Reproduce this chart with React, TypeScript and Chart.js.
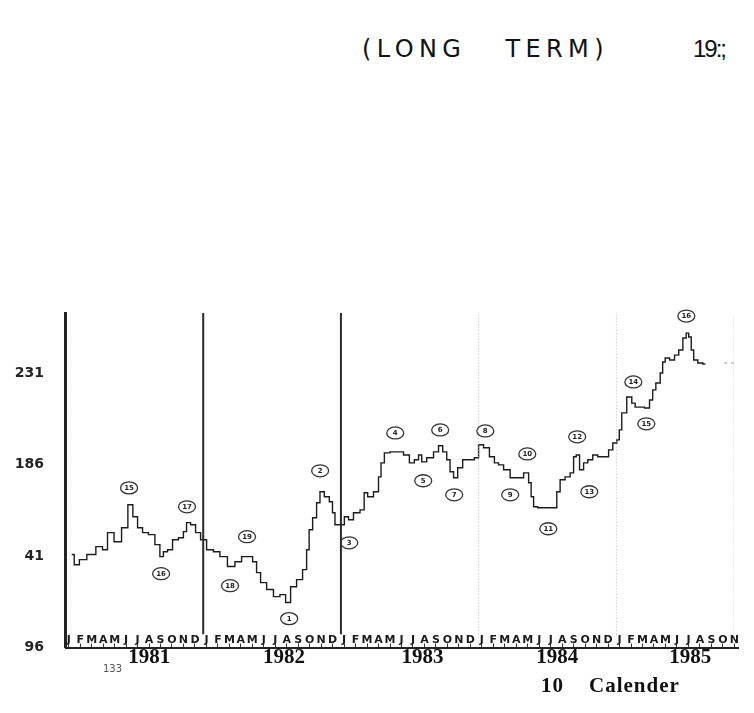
import React, { useEffect, useRef } from "react";
import { Chart, registerables } from "chart.js";

Chart.register(...registerables);

// ---- data ----
const priceMonths = [
  0.54, 0.98, 1.44, 2.28, 3.01, 3.44, 3.88, 4.58, 5.19, 5.68, 6.06, 6.5, 6.93, 7.52, 8.06, 8.39, 8.67, 9.11, 9.55, 10.13, 10.42, 10.68, 11.12, 11.55, 11.99,
  12.6, 13.18, 13.73, 14.49, 15.04, 15.65, 16.09, 16.52, 16.78, 17.22, 17.83, 18.41, 18.96, 19.4, 19.83, 20.44, 20.88, 21.14, 21.32, 21.75, 22.01, 22.34, 22.77, 23.21, 23.32, 23.64, 24.08,
  24.52, 24.8, 25.39, 25.94, 26.11, 26.55, 27.13, 27.42, 27.57, 28.0, 28.55, 29.16, 29.75, 30.18, 30.62, 30.91, 31.17, 31.78, 32.36, 32.65, 33.09, 33.35, 33.67, 33.96, 34.39, 34.83, 35.41, 35.85, 36.14,
  36.72, 37.16, 37.59, 37.88, 38.47, 39.02, 39.63, 40.21, 40.5, 40.65, 40.93, 41.37, 41.95, 42.68, 42.94, 43.26, 43.81, 44.13, 44.42, 44.59, 45.0, 45.29, 45.73, 46.16, 46.6, 47.18, 47.47, 47.91,
  48.17, 48.34, 48.6, 49.21, 49.48, 49.8, 50.24, 50.67, 51.11, 51.22, 51.66, 51.98, 52.09, 52.42, 52.85, 53.29, 53.58, 54.01, 54.16, 54.45, 54.6, 54.88, 55.32, 55.75,
];
const priceValues = [
  141.7, 136.7, 139.2, 141.7, 145.6, 144.1, 152.5, 148.0, 154.9, 166.2, 160.3, 154.9, 152.5, 151.5, 146.6, 140.7, 143.1, 144.1, 149.0, 150.0, 153.0, 157.4, 156.4, 152.5, 149.0,
  144.1, 143.1, 140.7, 135.8, 138.2, 140.7, 140.7, 138.2, 132.8, 127.9, 124.5, 121.0, 122.0, 118.1, 125.9, 129.4, 134.3, 144.1, 153.9, 159.8, 167.2, 172.6, 170.1, 167.7, 162.3, 156.4, 156.4,
  160.3, 158.8, 162.3, 163.7, 172.1, 170.1, 172.6, 179.9, 186.8, 191.7, 192.2, 192.2, 190.7, 186.8, 188.3, 190.7, 187.3, 189.3, 192.2, 195.2, 192.2, 188.3, 182.4, 179.5, 184.4, 188.3, 188.3, 189.3, 195.7,
  194.2, 189.8, 186.8, 185.8, 183.4, 179.5, 179.5, 181.9, 177.0, 170.1, 165.2, 164.7, 164.7, 164.7, 172.6, 178.5, 179.9, 181.9, 189.8, 190.7, 183.4, 186.8, 188.3, 190.7, 189.8, 189.8, 193.2, 196.6,
  198.1, 203.0, 211.4, 219.2, 216.2, 214.2, 214.2, 213.8, 217.7, 222.7, 226.1, 231.0, 236.4, 238.4, 237.4, 239.8, 242.3, 248.2, 250.6, 248.7, 242.3, 237.4, 235.9, 235.4,
];
const tailMonths = [57.4, 58.6];
const tailValues = [235.9, 235.9];

const yearLineMonths = [12, 24, 36, 48];
const yearLineKinds = ["solid", "solid", "dotted", "dotted"];
const faintLineMonths = [0.4, 58.2];

const monthLetters = ["J", "F", "M", "A", "M", "J", "J", "A", "S", "O", "N", "D"];
const monthTicks = Array.from({ length: 59 }, (_, i) => i);
const yearLabels = ["1981", "1982", "1983", "1984", "1985"];
const yearLabelMonths = [7.3, 19.05, 31.1, 42.85, 54.45];
const yTickValues = [96, 141, 186, 231];
const yTickLabels = ["96", "41", "186", "231"];

const noteNumbers = [15, 16, 17, 18, 19, 1, 2, 3, 4, 5, 6, 7, 8, 9, 10, 11, 12, 13, 14, 15, 16];
const noteMonths = [5.54, 8.33, 10.59, 14.34, 15.82, 19.49, 22.19, 24.72, 28.73, 31.17, 32.65, 33.87, 36.58, 38.75, 40.24, 42.07, 44.59, 45.64, 49.48, 50.61, 54.1];
const noteValues = [174.5, 132.3, 165.2, 126.4, 150.5, 110.2, 182.9, 147.5, 201.5, 178.0, 203.0, 171.1, 202.5, 171.1, 191.2, 154.4, 199.6, 172.6, 226.6, 206.0, 259.0];

const Y_MIN = 96;
const Y_MAX = 260.5;
const X_MIN = 0;
const X_MAX = 58.6;
const LINE_LOW = 102.5;
const LETTER_SHIFT = 0.28;

const circleLabels = {
  id: "circleLabels",
  afterDatasetsDraw(chart: any) {
    const { ctx } = chart;
    const xs = chart.scales.x;
    const ys = chart.scales.y;
    ctx.save();
    noteNumbers.forEach((n, i) => {
      const px = xs.getPixelForValue(noteMonths[i]);
      const py = ys.getPixelForValue(noteValues[i]);
      ctx.beginPath();
      ctx.ellipse(px, py, 8.5, 6, 0, 0, Math.PI * 2);
      ctx.lineWidth = 1.3;
      ctx.strokeStyle = "#333";
      ctx.stroke();
      ctx.fillStyle = "#222";
      ctx.font = "bold 7px 'DejaVu Sans'";
      ctx.textAlign = "center";
      ctx.textBaseline = "middle";
      ctx.fillText(String(n), px, py + 0.5);
    });
    ctx.restore();
  },
};

export default function App() {
  const ref = useRef<HTMLCanvasElement | null>(null);

  useEffect(() => {
    if (!ref.current) return;
    const datasets: any[] = [];
    yearLineMonths.forEach((m, i) => {
      const solid = yearLineKinds[i] === "solid";
      datasets.push({
        data: [{ x: m, y: LINE_LOW }, { x: m, y: Y_MAX }],
        borderColor: solid ? "#2a2a2a" : "#b5b5b5",
        borderWidth: solid ? 2 : 1,
        borderDash: solid ? [] : [1, 2],
        pointRadius: 0,
      });
    });
    faintLineMonths.forEach((m) => {
      datasets.push({
        data: [{ x: m, y: LINE_LOW }, { x: m, y: Y_MAX }],
        borderColor: "#dcdcdc",
        borderWidth: 1,
        borderDash: [1, 2],
        pointRadius: 0,
      });
    });
    datasets.push({
      data: priceMonths.map((m, i) => ({ x: m, y: priceValues[i] })),
      borderColor: "#1c1c1c",
      borderWidth: 1.4,
      pointRadius: 0,
      stepped: "middle",
    });
    datasets.push({
      data: tailMonths.map((m, i) => ({ x: m, y: tailValues[i] })),
      borderColor: "#999",
      borderWidth: 1,
      borderDash: [3, 4],
      pointRadius: 0,
    });

    const chart = new Chart(ref.current, {
      type: "line",
      data: { datasets },
      options: {
        animation: false,
        responsive: false,
        devicePixelRatio: 1,
        layout: { padding: { top: 305, right: 8, bottom: 27.5, left: 0 } },
        plugins: { legend: { display: false }, tooltip: { enabled: false }, title: { display: false } },
        scales: {
          x: {
            type: "linear",
            min: X_MIN,
            max: X_MAX,
            position: "bottom",
            afterBuildTicks: (s: any) => {
              s.ticks = monthTicks.map((v) => ({ value: v + LETTER_SHIFT }));
            },
            afterFit: (s: any) => {
              s.height = 0;
            },
            ticks: {
              autoSkip: false,
              maxRotation: 0,
              minRotation: 0,
              mirror: true,
              padding: 1.5,
              color: "#1a1a1a",
              font: { family: "'DejaVu Sans'", weight: "bold", size: 11, lineHeight: 1 },
              callback: (_v: any, i: number) => monthLetters[monthTicks[i] % 12],
            },
            grid: { display: true, drawOnChartArea: false, drawTicks: true, tickLength: -4, color: "#333", lineWidth: 1 },
            border: { display: true, color: "#222", width: 2 },
          },
          x2: {
            type: "linear",
            min: X_MIN,
            max: X_MAX,
            position: "bottom",
            afterBuildTicks: (s: any) => {
              s.ticks = yearLabelMonths.map((v) => ({ value: v }));
            },
            afterFit: (s: any) => {
              s.height = 30;
            },
            ticks: {
              autoSkip: false,
              maxRotation: 0,
              minRotation: 0,
              padding: 0,
              color: "#111",
              font: { family: "'Liberation Serif'", weight: "bold", size: 21, lineHeight: 0.2 },
              callback: (_v: any, i: number) => yearLabels[i],
            },
            grid: { display: false },
            border: { display: false },
          },
          y: {
            type: "linear",
            min: Y_MIN,
            max: Y_MAX,
            afterBuildTicks: (s: any) => {
              s.ticks = yTickValues.map((v) => ({ value: v }));
            },
            afterFit: (s: any) => {
              s.width = 57.5;
            },
            ticks: {
              padding: 13.5,
              color: "#222",
              font: { family: "'DejaVu Sans'", weight: "bold", size: 14 },
              callback: (v: any) => yTickLabels[yTickValues.indexOf(v)],
            },
            grid: { display: false },
            border: { display: true, color: "#222", width: 3 },
          },
        },
      } as any,
      plugins: [circleLabels],
    });
    return () => chart.destroy();
  }, []);

  return (
    <div style={{ position: "relative", width: 738, height: 697 }}>
      <div
        style={{
          position: "absolute",
          left: -2,
          top: -2,
          width: 746,
          height: 705,
          borderLeft: "2px solid #5a5a5a",
          borderTop: "2px solid #5a5a5a",
        }}
      />
      <div
        style={{
          position: "absolute",
          left: 354,
          top: 29,
          font: "24px 'DejaVu Sans'",
          lineHeight: "24px",
          letterSpacing: "5.4px",
          whiteSpace: "pre",
          color: "#111",
        }}
      >
        {"(LONG   TERM)"}
      </div>
      <div
        style={{
          position: "absolute",
          left: 685,
          top: 29,
          font: "24px 'Liberation Sans'",
          lineHeight: "24px",
          letterSpacing: "-2px",
          whiteSpace: "pre",
          color: "#111",
        }}
      >
        {"19:;"}
      </div>
      <canvas ref={ref} width={738} height={697} style={{ position: "absolute", left: 0, top: 0 }} />
      <div
        style={{
          position: "absolute",
          left: 95,
          top: 655,
          font: "10px 'DejaVu Sans'",
          color: "#555",
        }}
      >
        133
      </div>
      <div
        style={{
          position: "absolute",
          left: 533,
          top: 667,
          font: "bold 21px 'Liberation Serif'",
          lineHeight: "21px",
          letterSpacing: "1px",
          whiteSpace: "pre",
          color: "#111",
        }}
      >
        {"10    Calender"}
      </div>
    </div>
  );
}
